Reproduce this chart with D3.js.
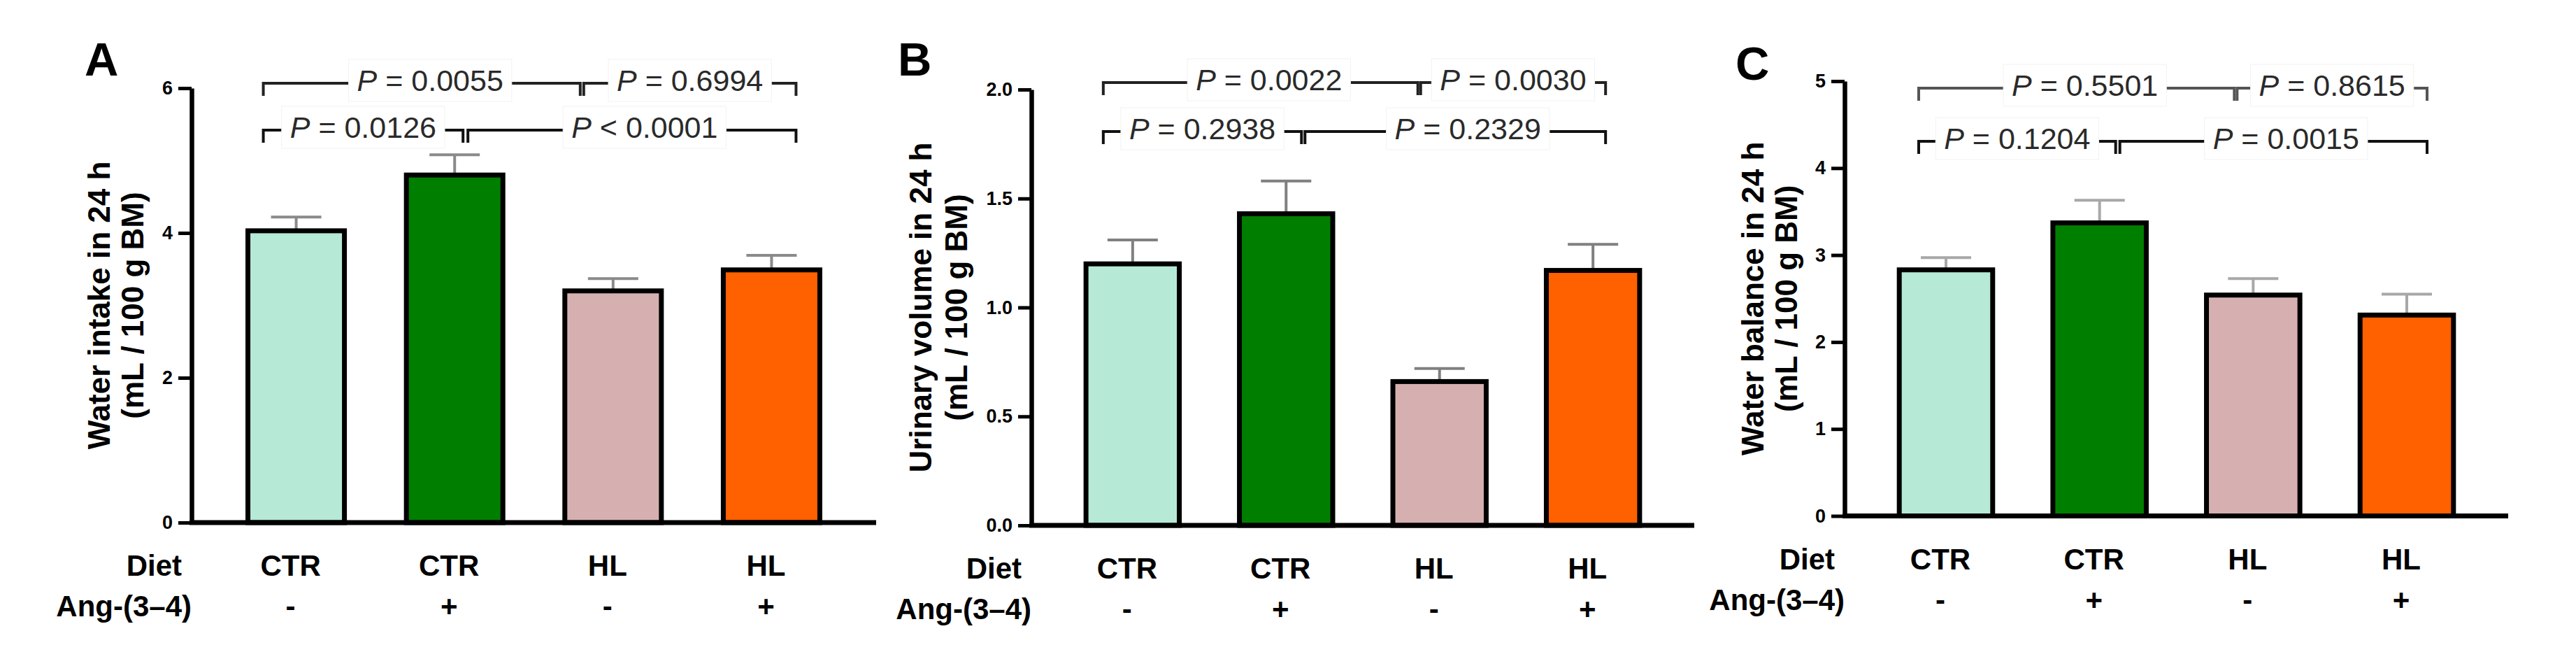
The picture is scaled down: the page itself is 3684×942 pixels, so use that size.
<!DOCTYPE html>
<html>
<head>
<meta charset="utf-8">
<script src="https://cdn.jsdelivr.net/npm/d3@7"></script>
<style>
  html, body { margin: 0; padding: 0; background: #fff; }
  svg { display: block; font-family: "Liberation Sans", Arial, sans-serif; }
</style>
</head>
<body>
<svg id="chart" width="3684" height="942"></svg>
<script>
// ---------------- data ----------------
const groups = ["CTR-", "CTR+", "HL-", "HL+"];
const dietLabels = ["CTR", "CTR", "HL", "HL"];
const angLabels = ["-", "+", "-", "+"];
const groupColors = ["#b6e9d6", "#007e00", "#d6b0b0", "#ff6000"];

const waterIntake = [4.03, 4.80, 3.20, 3.49];
const waterIntakeSem = [0.19, 0.28, 0.17, 0.20];
const urinaryVolume = [1.20, 1.43, 0.66, 1.17];
const urinaryVolumeSem = [0.11, 0.15, 0.06, 0.12];
const waterBalance = [2.83, 3.37, 2.54, 2.31];
const waterBalanceSem = [0.14, 0.26, 0.19, 0.24];

const ticksA = [0, 2, 4, 6];
const ticksB = [0, 0.5, 1.0, 1.5, 2.0];
const ticksC = [0, 1, 2, 3, 4, 5];

// comparisons: [groupIndexFrom, groupIndexTo, row]
const comparisons = [[0, 2, 0], [2, 3, 0], [0, 1, 1], [1, 3, 1]];
const pTextA = ["= 0.0055", "= 0.6994", "= 0.0126", "< 0.0001"];
const pTextB = ["= 0.0022", "= 0.0030", "= 0.2938", "= 0.2329"];
const pTextC = ["= 0.5501", "= 0.8615", "= 0.1204", "= 0.0015"];

// ---------------- layout ----------------
const panels = [
  { letter: "A", letterX: 121, letterY: 108,
    values: waterIntake, sem: waterIntakeSem, ticks: ticksA, max: 6, fmt: d3.format("d"),
    axisX: 274, xEnd: 1253, y0: 747, yTop: 126,
    ylab: ["Water intake in 24 h", "(mL / 100 g BM)"], ylabOff: [117, 69],
    rows: [119, 186], rowColors: ["#222", "#111"],
    pText: pTextA, errColor: "#8a8a8a",
    offs: [[-47, -47], [-42, 35], [-47, 12], [19, 35]] },
  { letter: "B", letterX: 1284, letterY: 108,
    values: urinaryVolume, sem: urinaryVolumeSem, ticks: ticksB, max: 2, fmt: d3.format(".1f"),
    axisX: 1475, xEnd: 2423, y0: 751, yTop: 128,
    ylab: ["Urinary volume in 24 h", "(mL / 100 g BM)"], ylabOff: [143, 92],
    rows: [118, 188], rowColors: ["#222", "#111"],
    pText: pTextB, errColor: "#808080",
    offs: [[-42, -31], [-27, 18], [-42, 22], [27, 18]] },
  { letter: "C", letterX: 2482, letterY: 114,
    values: waterBalance, sem: waterBalanceSem, ticks: ticksC, max: 5, fmt: d3.format("d"),
    axisX: 2638, xEnd: 3587, y0: 737.5, yTop: 116,
    ylab: ["Water balance in 24 h", "(mL / 100 g BM)"], ylabOff: [116, 68],
    rows: [126, 202], rowColors: ["#555", "#111"],
    pText: pTextC, errColor: "#a8a8a8",
    offs: [[-39, -27], [-23, 29], [-39, 23], [29, 29]] }
];
const textDx = [12, 0, 0, 18];

const svg = d3.select("#chart");

panels.forEach(p => {
  const g = svg.append("g");
  const x = d3.scaleBand().domain(groups).range([p.axisX, p.xEnd])
    .paddingInner(0.36).paddingOuter(0.34);
  const y = d3.scaleLinear().domain([0, p.max]).range([p.y0, p.yTop]);
  const bw = x.bandwidth();
  const cx = i => x(groups[i]) + bw / 2;

  // panel letter
  g.append("text").attr("x", p.letterX).attr("y", p.letterY)
    .attr("font-size", 67).attr("font-weight", "bold").text(p.letter);

  // error bars (upper SEM)
  const err = g.append("g").attr("stroke", p.errColor).attr("stroke-width", 4).attr("fill", "none");
  groups.forEach((grp, i) => {
    const top = y(p.values[i] + p.sem[i]);
    err.append("line").attr("x1", cx(i)).attr("x2", cx(i))
      .attr("y1", y(p.values[i])).attr("y2", top);
    err.append("line").attr("x1", cx(i) - 36).attr("x2", cx(i) + 36)
      .attr("y1", top).attr("y2", top);
  });

  // bars
  g.append("g").selectAll("rect").data(groups).join("rect")
    .attr("x", d => x(d) + 3.5)
    .attr("y", (d, i) => y(p.values[i]))
    .attr("width", bw - 7)
    .attr("height", (d, i) => p.y0 - y(p.values[i]))
    .attr("fill", (d, i) => groupColors[i])
    .attr("stroke", "#000").attr("stroke-width", 7);

  // x axis line
  g.append("line").attr("x1", p.axisX - 3).attr("x2", p.xEnd)
    .attr("y1", p.y0).attr("y2", p.y0)
    .attr("stroke", "#000").attr("stroke-width", 7);

  // y axis
  const ya = g.append("g").attr("transform", `translate(${p.axisX},0)`)
    .call(d3.axisLeft(y).tickValues(p.ticks).tickFormat(p.fmt)
      .tickSizeInner(19).tickSizeOuter(0).tickPadding(8));
  ya.select(".domain").attr("stroke", "#000").attr("stroke-width", 6.5);
  ya.selectAll(".tick line").attr("stroke", "#000").attr("stroke-width", 5);
  ya.selectAll(".tick text").attr("font-size", 27).attr("font-weight", "bold")
    .attr("fill", "#000").attr("font-family", "Liberation Sans, Arial, sans-serif");

  // y label
  const yc = (p.y0 + p.yTop) / 2;
  p.ylab.forEach((t, k) => {
    g.append("text")
      .attr("transform", `translate(${p.axisX - p.ylabOff[k]},${yc}) rotate(-90)`)
      .attr("text-anchor", "middle").attr("font-size", 44).attr("font-weight", "bold")
      .text(t);
  });

  // category rows
  g.append("text").attr("x", p.axisX - 14).attr("y", p.y0 + 76)
    .attr("text-anchor", "end").attr("font-size", 42).attr("font-weight", "bold").text("Diet");
  g.append("text").attr("x", p.axisX).attr("y", p.y0 + 134)
    .attr("text-anchor", "end").attr("font-size", 42).attr("font-weight", "bold").text("Ang-(3–4)");
  groups.forEach((grp, i) => {
    g.append("text").attr("x", cx(i) - 8).attr("y", p.y0 + 76)
      .attr("text-anchor", "middle").attr("font-size", 42).attr("font-weight", "bold")
      .text(dietLabels[i]);
    g.append("text").attr("x", cx(i) - 8).attr("y", p.y0 + 134)
      .attr("text-anchor", "middle").attr("font-size", 42).attr("font-weight", "bold")
      .text(angLabels[i]);
  });

  // significance brackets
  comparisons.forEach((c, k) => {
    const [a, b, row] = c;
    const x1 = cx(a) + p.offs[k][0];
    const x2 = cx(b) + p.offs[k][1];
    const yr = p.rows[row];
    const col = p.rowColors[row];
    g.append("path")
      .attr("d", `M${x1},${yr + 18}V${yr}H${x2}V${yr + 18}`)
      .attr("fill", "none").attr("stroke", col).attr("stroke-width", 4);
    const tg = g.append("g");
    const bg = tg.append("rect");
    const t = tg.append("text").attr("x", (x1 + x2) / 2 + textDx[k]).attr("y", yr + 11)
      .attr("text-anchor", "middle").attr("font-size", 43).attr("fill", "#2a2a2a");
    t.append("tspan").attr("font-style", "italic").text("P");
    t.append("tspan").text(" " + p.pText[k]);
    const bb = t.node().getBBox();
    bg.attr("x", bb.x - 12).attr("y", bb.y - 6).attr("width", bb.width + 24)
      .attr("height", bb.height + 12).attr("fill", "#fff").attr("stroke", "#f2f2f2").attr("stroke-width", 1);
  });
});
</script>
</body>
</html>
